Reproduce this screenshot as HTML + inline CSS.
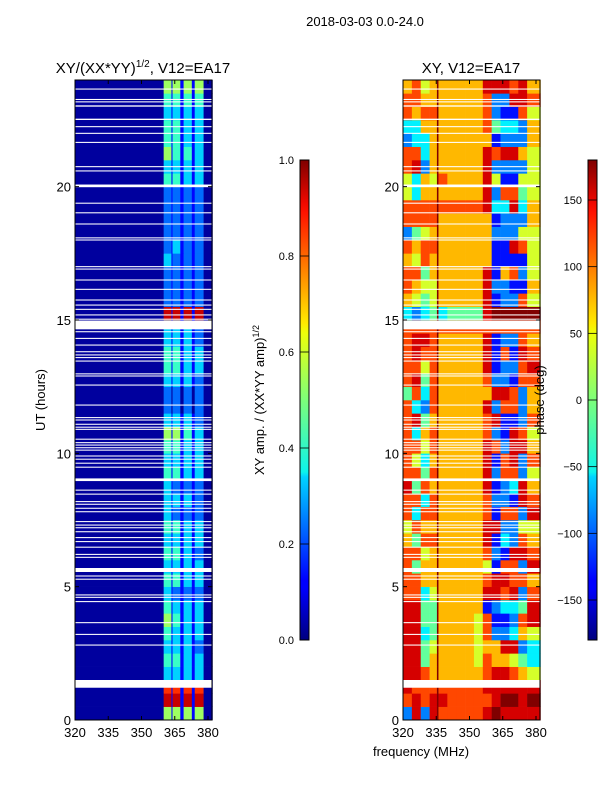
<!DOCTYPE html>
<html><head><meta charset="utf-8"><style>
body{margin:0;background:#fff;}
svg{display:block;font-family:"Liberation Sans",sans-serif;}
</style></head><body>
<svg id="fig" width="600" height="800" viewBox="0 0 600 800" xmlns="http://www.w3.org/2000/svg">
<defs>
<linearGradient id="jet" x1="0" y1="1" x2="0" y2="0">
<stop offset="0" stop-color="#00007f"/><stop offset="0.11" stop-color="#0000ff"/>
<stop offset="0.125" stop-color="#0000ff"/><stop offset="0.34" stop-color="#00d4ff"/>
<stop offset="0.35" stop-color="#0cf4eb"/><stop offset="0.5" stop-color="#7dff7a"/>
<stop offset="0.64" stop-color="#eeff09"/><stop offset="0.66" stop-color="#ffea00"/>
<stop offset="0.89" stop-color="#ff1300"/><stop offset="0.91" stop-color="#f10800"/>
<stop offset="1" stop-color="#7f0000"/>
</linearGradient>
</defs>
<text x="365" y="26" font-size="13" text-anchor="middle">2018-03-03 0.0-24.0</text>
<text x="143" y="73" font-size="15" text-anchor="middle">XY/(XX*YY)<tspan font-size="10" dy="-6">1/2</tspan><tspan dy="6">, V12=EA17</tspan></text>
<text x="471" y="73" font-size="15" text-anchor="middle">XY, V12=EA17</text>
<text transform="translate(45,400) rotate(-90)" font-size="13" text-anchor="middle">UT (hours)</text>
<text x="421" y="756" font-size="13" text-anchor="middle">frequency (MHz)</text>
<g id="left"></g>
<g id="right"></g>
<g id="axes"></g>
<g id="cbars"></g>
<text transform="translate(264,400) rotate(-90)" font-size="13" text-anchor="middle">XY amp. / (XX*YY amp)<tspan font-size="9" dy="-5">1/2</tspan></text>
<text transform="translate(544,400) rotate(-90)" font-size="13" text-anchor="middle">phase (deg)</text>
</svg>
<script>
// ---- data ----
const ampFreqEdges = [320, 360, 363.5, 364, 367.5, 369, 372.7, 374, 378, 382];
const ampRows = [
"051515150","091919190","081818180","031313130","041413130","031313120","041313130","051413130",
"041313130","031212120","041413130","031313130","041413120","031313130","041413130","031212120",
"031313120","031212120","041413130","031313130","041413130","051514130","031313120","020202020",
"020202020","031313120","041413130","041413130","031313120","031313120","091919190","021212120",
"021212120","021212120","031212120","021312120","021212120","021212120","021212120","021212120",
"041413130","031313130","051414130","041413130","041413130","031313130","041414140","051515150"];
const phaseFreqEdges = [320,324,328,332,335.3,336,340,344,348,352,356,360,364,368,372,376,382];
const phaseRows = [
"2828977777898888","7878987777789989","8777977777888888","8876966666788765","8846966665766543","8845966665668823",
"8834966665722365","8844966665711278","8844966666123348","7735966666887827","7766966666788776","7466966666517728",
"7756966666721887","6477966666813276","5766966666882255","7377966666717728","7737966666722187","8476966666812386",
"7747966666827725","7536966666817827","7757966666872886","7367966666721875","7846966666781127","7327966666827726",
"4737966666688726","7847966666722177","7757966666812278","7877966666817187","7887966666812276","7777977777777777",
"3234934444899999","6545966666812275","7655966666822116","7746966666816725","6576966666611115","7677966666611875",
"2456966666622255","7777966666612226","7777977777833836","5366966666827745","5365976666851155","7826966666822225",
"7736966666878865","2336966666612226","3366966666743326","7677966666721175","7766966666722887","6756966666888786"];
const gapStarts = [23.64,23.25,23.16,23.0,22.5,22.23,21.98,21.64,20.73,20.57,19.98,19.36,19.0,18.58,18.06,17.98,16.98,16.89,16.48,16.13,15.73,15.54,15.38,15.17,15.01,14.65,14.54,14.29,14.04,13.79,13.67,13.57,13.44,12.96,12.88,12.54,
11.79,11.32,11.23,11.07,10.96,10.88,10.51,10.38,10.29,10.19,10.1,9.88,9.76,9.61,9.46,8.96,8.6,8.45,8.17,8.07,7.92,7.79,7.42,7.29,7.19,7.04,6.82,6.67,6.46,6.19,6.08,5.55,5.38,5.26,4.67,4.58,4.42,3.63,3.19,2.79,1.21];
const gapEnds = [23.68,23.29,23.2,23.05,22.55,22.27,22.02,21.68,20.77,20.61,20.08,19.4,19.04,18.62,18.1,18.02,17.02,16.93,16.52,16.17,15.77,15.58,15.42,15.21,15.05,14.98,14.58,14.33,14.08,13.83,13.71,13.61,13.48,13.0,12.92,12.58,
11.83,11.36,11.27,11.11,11.0,10.92,10.55,10.42,10.33,10.23,10.14,9.92,9.8,9.65,9.5,9.06,8.64,8.49,8.21,8.11,7.96,7.83,7.46,7.33,7.23,7.08,6.86,6.71,6.5,6.23,6.12,5.7,5.42,5.3,4.71,4.62,4.46,3.67,3.23,2.83,1.5];
const xTicks = [320, 335, 350, 365, 380];
const yTicks = [0, 5, 10, 15, 20];
const ampTicks = [0.0, 0.2, 0.4, 0.6, 0.8, 1.0];
const phaseTicks = [-150, -100, -50, 0, 50, 100, 150];

// ---- scales ----
const NS = "http://www.w3.org/2000/svg";
const FMIN = 320, FMAX = 381.8, TMAX = 24, Y0 = 720, PXH = 640/24;
function xL(f){ return 75 + (f-FMIN)/(FMAX-FMIN)*137; }
function xR(f){ return 403 + (f-FMIN)/(FMAX-FMIN)*137; }
function yT(h){ return Y0 - h*PXH; }
function jet(v){
  v = Math.max(0, Math.min(1, v));
  const r = Math.max(0, Math.min(1, 1.5 - Math.abs(4*v-3)));
  const g = Math.max(0, Math.min(1, 1.5 - Math.abs(4*v-2)));
  const b = Math.max(0, Math.min(1, 1.5 - Math.abs(4*v-1)));
  return "rgb("+Math.round(r*255)+","+Math.round(g*255)+","+Math.round(b*255)+")";
}
function mk(tag, attrs, parent){
  const e = document.createElementNS(NS, tag);
  for (const k in attrs) e.setAttribute(k, attrs[k]);
  parent.appendChild(e); return e;
}
const left = document.getElementById("left"), right = document.getElementById("right");
const rowH = TMAX / ampRows.length;
ampRows.forEach((row, r) => {
  for (let c = 0; c < row.length; c++) {
    const v = parseInt(row[c]) * 0.1 + 0.03;
    const x0 = xL(ampFreqEdges[c]), x1 = xL(ampFreqEdges[c+1]);
    const rc = mk("rect", {x:x0, y:yT((r+1)*rowH), width:x1-x0+0.3, height:rowH*PXH+0.3, fill:jet(v)}, left);
    
    
  }
});
const rowH2 = TMAX / phaseRows.length;
phaseRows.forEach((row, r) => {
  for (let c = 0; c < row.length; c++) {
    const p = -180 + parseInt(row[c]) * 40 + 10;
    const x0 = xR(phaseFreqEdges[c]), x1 = xR(phaseFreqEdges[c+1]);
    const rc = mk("rect", {x:x0, y:yT((r+1)*rowH2), width:x1-x0+0.3, height:rowH2*PXH+0.3, fill:jet((p+180)/360)}, right);
    
    
  }
});
// flagged gaps
gapStarts.forEach((s, i) => {
  const e = gapEnds[i];
  [[xL, left],[xR, right]].forEach(([sx, g]) => {
    const rc = mk("rect", {x:sx(FMIN), y:yT(e), width:137, height:Math.max(1,(e-s)*PXH), fill:"#fff"}, g);
    
    
  });
});
// axes
const axes = document.getElementById("axes");
[[75, xL],[403, xR]].forEach(([X, sx], pi) => {
  const fr = mk("rect", {x:X, y:80, width:137, height:640, fill:"none", stroke:"#000", "stroke-width":1}, axes);
  
  
  xTicks.forEach(t => {
    const x = sx(t);
    mk("line", {x1:x, y1:720, x2:x, y2:716, stroke:"#000"}, axes);
    mk("line", {x1:x, y1:80, x2:x, y2:84, stroke:"#000"}, axes);
    const tx = mk("text", {x:x, y:737, "font-size":13, "text-anchor":"middle"}, axes);
    tx.textContent = t;
    
    
  });
  yTicks.forEach(t => {
    const y = yT(t);
    mk("line", {x1:X, y1:y, x2:X+4, y2:y, stroke:"#000"}, axes);
    mk("line", {x1:X+137, y1:y, x2:X+133, y2:y, stroke:"#000"}, axes);
    const tx = mk("text", {x:X-4, y:y+5, "font-size":13, "text-anchor":"end"}, axes);
    tx.textContent = t;
    
    
  });
});
// colorbars
const cb = document.getElementById("cbars");
function colorbar(X, ticks, vmin, vmax, name){
  const r = mk("rect", {x:X, y:160, width:9, height:480, fill:"url(#jet)", stroke:"#000", "stroke-width":1}, cb);
  
  
  ticks.forEach(t => {
    const y = 640 - (t-vmin)/(vmax-vmin)*480;
    mk("line", {x1:X, y1:y, x2:X+9, y2:y, stroke:"#000", "stroke-width":0.8}, cb);
    const tx = mk("text", {x:X-6, y:y+4, "font-size":11, "text-anchor":"end"}, cb);
    tx.textContent = (vmax <= 1) ? t.toFixed(1) : String(t).replace("-", "\u2212");
    
    
  });
}
colorbar(300, ampTicks, 0, 1, "amp-colorbar");
colorbar(588, phaseTicks, -180, 180, "phase-colorbar");
</script>
</body></html>
